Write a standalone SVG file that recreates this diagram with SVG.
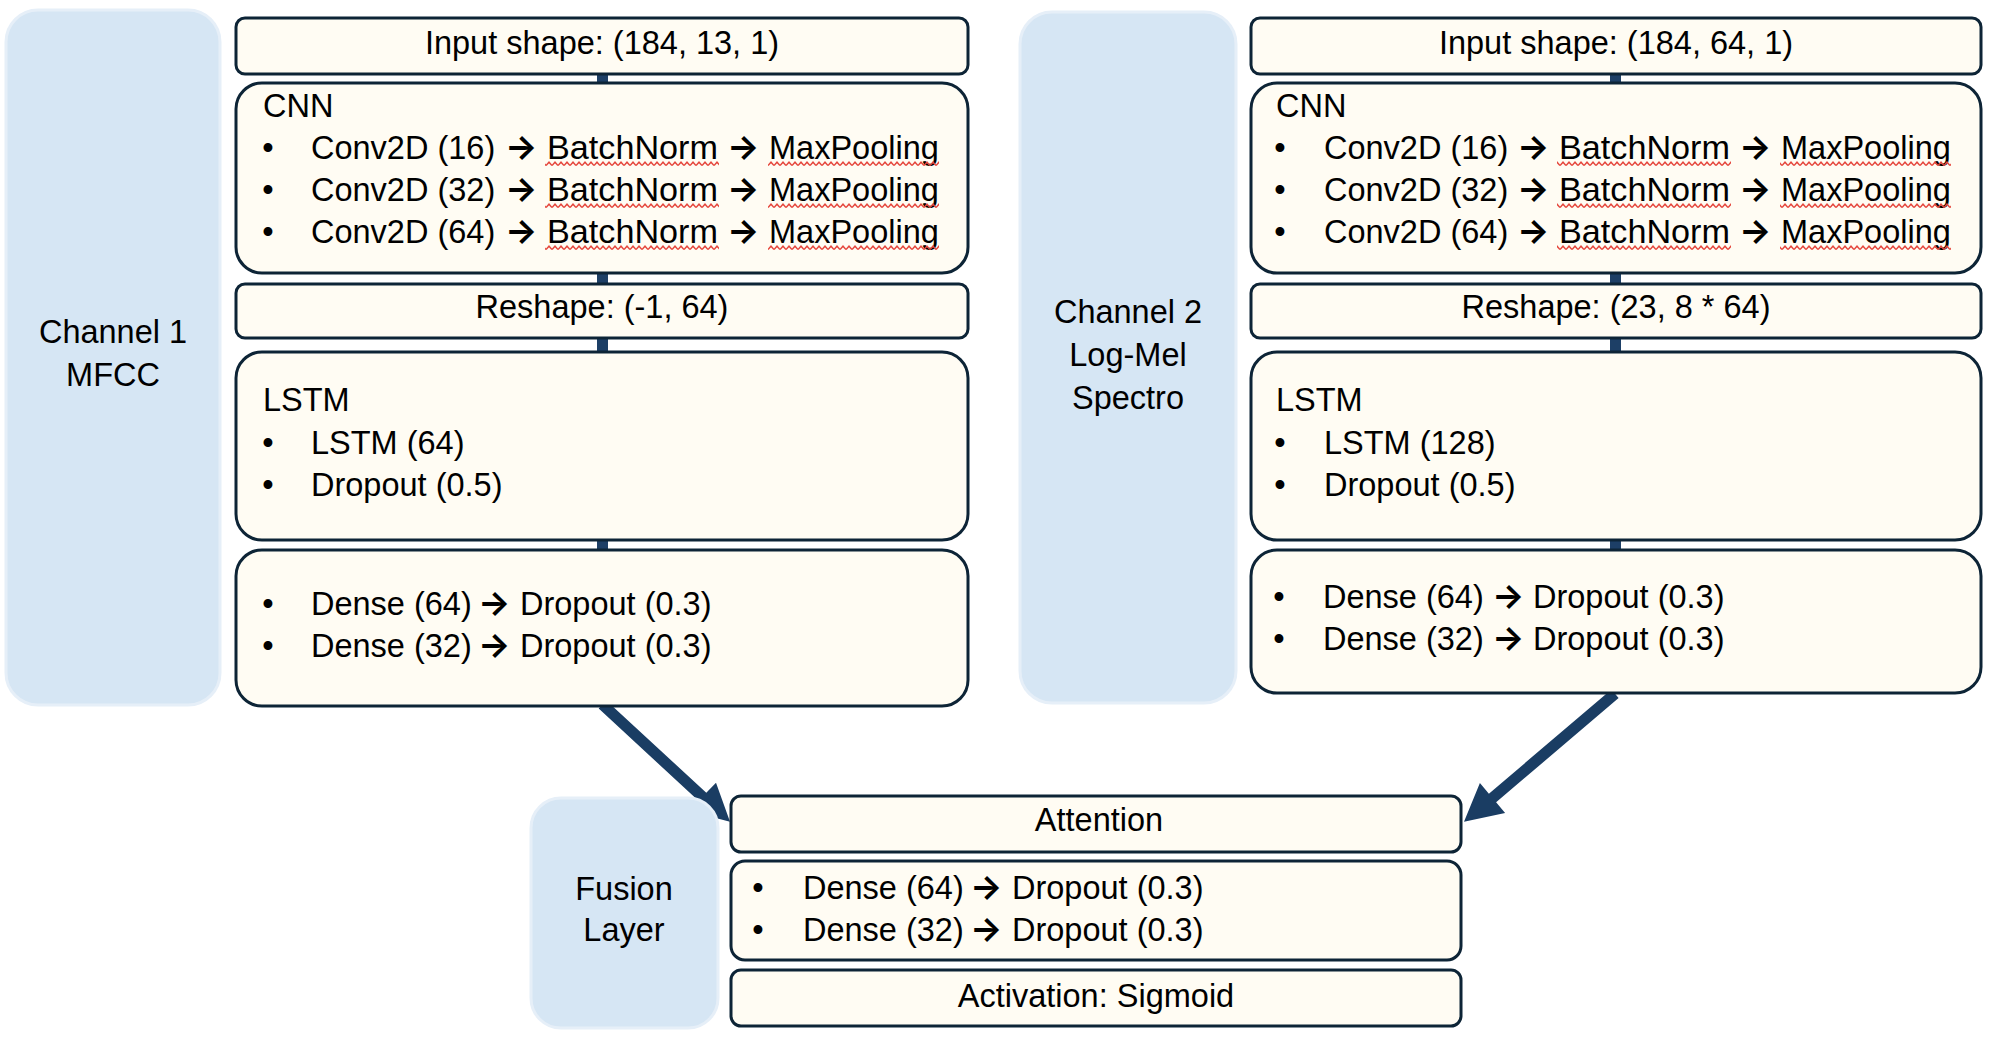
<svg xmlns="http://www.w3.org/2000/svg" width="2004" height="1048" viewBox="0 0 2004 1048">
<style>
.panel{fill:#D6E6F4;stroke:#E6EFF8;stroke-width:3}
.box{fill:#FFFCF3;stroke:#0D2436;stroke-width:3}
.stub{fill:#1D3F66}
.t{font-family:"Liberation Sans",Arial,sans-serif;font-size:32.5px;fill:#000}
.c{text-anchor:middle}
.ar{font-family:Inter,"DejaVu Sans",sans-serif;font-weight:bold;font-size:34px}
.arrow{fill:#1A3D63}
</style>
<defs>
<pattern id="wave" patternUnits="userSpaceOnUse" x="0" y="5" width="6" height="6">
<path d="M0,4.6 L3,1.2 L6,4.6" fill="none" stroke="#E5473D" stroke-width="1.5"/>
</pattern>
</defs>
<rect width="2004" height="1048" fill="#FFFFFF"/>

<g id="connectors">
<rect class="stub" x="597" y="72" width="11" height="13"/>
<rect class="stub" x="597" y="271" width="11" height="15"/>
<rect class="stub" x="597" y="336" width="11" height="18"/>
<rect class="stub" x="597" y="538" width="11" height="14"/>
<rect class="stub" x="1610" y="72" width="11" height="13"/>
<rect class="stub" x="1610" y="271" width="11" height="15"/>
<rect class="stub" x="1610" y="336" width="11" height="18"/>
<rect class="stub" x="1610" y="538" width="11" height="14"/>
<polygon class="arrow" points="606.3,700.4 706.3,792.8 716,782.7 730,821.7 689,811 698.7,801 598.7,708.6"/>
<polygon class="arrow" points="1611.4,689.5 1488.9,793.7 1479.9,783.1 1464,821.7 1505.1,812.9 1496.1,802.3 1618.6,698.1"/>
</g>

<g id="channel1">
<rect class="panel" x="6" y="10" width="214" height="695" rx="32"/>
<text class="t c" x="113" y="343">Channel 1</text>
<text class="t c" x="113" y="386">MFCC</text>
</g>

<g id="input1">
<rect class="box" x="236" y="18" width="732" height="56" rx="9"/>
<text class="t c" x="602" y="54">Input shape: (184, 13, 1)</text>
</g>

<g id="cnn1">
<rect class="box" x="236" y="83" width="732" height="190" rx="26"/>
<text class="t" x="263" y="117">CNN</text>
<text class="t c" x="268" y="159">•</text>
<text class="t c" x="268" y="201">•</text>
<text class="t c" x="268" y="243">•</text>
<text class="t" y="159"><tspan x="311">Conv2D (16)</tspan><tspan class="ar" x="505">→</tspan><tspan x="547" textLength="171" lengthAdjust="spacingAndGlyphs">BatchNorm</tspan><tspan class="ar" x="727">→</tspan><tspan x="769">MaxPooling</tspan></text>
<text class="t" y="201"><tspan x="311">Conv2D (32)</tspan><tspan class="ar" x="505">→</tspan><tspan x="547" textLength="171" lengthAdjust="spacingAndGlyphs">BatchNorm</tspan><tspan class="ar" x="727">→</tspan><tspan x="769">MaxPooling</tspan></text>
<text class="t" y="243"><tspan x="311">Conv2D (64)</tspan><tspan class="ar" x="505">→</tspan><tspan x="547" textLength="171" lengthAdjust="spacingAndGlyphs">BatchNorm</tspan><tspan class="ar" x="727">→</tspan><tspan x="769">MaxPooling</tspan></text>
<rect x="545" y="161" width="174" height="6" fill="url(#wave)"/>
<rect x="768" y="161" width="171" height="6" fill="url(#wave)"/>
<rect x="545" y="203" width="174" height="6" fill="url(#wave)"/>
<rect x="768" y="203" width="171" height="6" fill="url(#wave)"/>
<rect x="545" y="245" width="174" height="6" fill="url(#wave)"/>
<rect x="768" y="245" width="171" height="6" fill="url(#wave)"/>
</g>

<g id="reshape1">
<rect class="box" x="236" y="284" width="732" height="54" rx="9"/>
<text class="t c" x="602" y="318">Reshape: (-1, 64)</text>
</g>

<g id="lstm1">
<rect class="box" x="236" y="352" width="732" height="188" rx="26"/>
<text class="t" x="263" y="411">LSTM</text>
<text class="t c" x="268" y="454">•</text>
<text class="t c" x="268" y="496">•</text>
<text class="t" x="311" y="454">LSTM (64)</text>
<text class="t" x="311" y="496">Dropout (0.5)</text>
</g>

<g id="dense1">
<rect class="box" x="236" y="550" width="732" height="156" rx="26"/>
<text class="t c" x="268" y="615">•</text>
<text class="t c" x="268" y="657">•</text>
<text class="t" y="615"><tspan x="311">Dense (64)</tspan><tspan class="ar" x="478">→</tspan><tspan x="520">Dropout (0.3)</tspan></text>
<text class="t" y="657"><tspan x="311">Dense (32)</tspan><tspan class="ar" x="478">→</tspan><tspan x="520">Dropout (0.3)</tspan></text>
</g>

<g id="channel2">
<rect class="panel" x="1020" y="12" width="216" height="691" rx="32"/>
<text class="t c" x="1128" y="323">Channel 2</text>
<text class="t c" x="1128" y="366">Log-Mel</text>
<text class="t c" x="1128" y="409">Spectro</text>
</g>

<g id="input2">
<rect class="box" x="1251" y="18" width="730" height="56" rx="9"/>
<text class="t c" x="1616" y="54">Input shape: (184, 64, 1)</text>
</g>

<g id="cnn2">
<rect class="box" x="1251" y="83" width="730" height="190" rx="26"/>
<text class="t" x="1276" y="117">CNN</text>
<text class="t c" x="1280" y="159">•</text>
<text class="t c" x="1280" y="201">•</text>
<text class="t c" x="1280" y="243">•</text>
<text class="t" y="159"><tspan x="1324">Conv2D (16)</tspan><tspan class="ar" x="1517">→</tspan><tspan x="1559" textLength="171" lengthAdjust="spacingAndGlyphs">BatchNorm</tspan><tspan class="ar" x="1739">→</tspan><tspan x="1781">MaxPooling</tspan></text>
<text class="t" y="201"><tspan x="1324">Conv2D (32)</tspan><tspan class="ar" x="1517">→</tspan><tspan x="1559" textLength="171" lengthAdjust="spacingAndGlyphs">BatchNorm</tspan><tspan class="ar" x="1739">→</tspan><tspan x="1781">MaxPooling</tspan></text>
<text class="t" y="243"><tspan x="1324">Conv2D (64)</tspan><tspan class="ar" x="1517">→</tspan><tspan x="1559" textLength="171" lengthAdjust="spacingAndGlyphs">BatchNorm</tspan><tspan class="ar" x="1739">→</tspan><tspan x="1781">MaxPooling</tspan></text>
<rect x="1557" y="161" width="174" height="6" fill="url(#wave)"/>
<rect x="1780" y="161" width="171" height="6" fill="url(#wave)"/>
<rect x="1557" y="203" width="174" height="6" fill="url(#wave)"/>
<rect x="1780" y="203" width="171" height="6" fill="url(#wave)"/>
<rect x="1557" y="245" width="174" height="6" fill="url(#wave)"/>
<rect x="1780" y="245" width="171" height="6" fill="url(#wave)"/>
</g>

<g id="reshape2">
<rect class="box" x="1251" y="284" width="730" height="54" rx="9"/>
<text class="t c" x="1616" y="318">Reshape: (23, 8 * 64)</text>
</g>

<g id="lstm2">
<rect class="box" x="1251" y="352" width="730" height="188" rx="26"/>
<text class="t" x="1276" y="411">LSTM</text>
<text class="t c" x="1280" y="454">•</text>
<text class="t c" x="1280" y="496">•</text>
<text class="t" x="1324" y="454">LSTM (128)</text>
<text class="t" x="1324" y="496">Dropout (0.5)</text>
</g>

<g id="dense2">
<rect class="box" x="1251" y="550" width="730" height="143" rx="26"/>
<text class="t c" x="1279" y="608">•</text>
<text class="t c" x="1279" y="650">•</text>
<text class="t" y="608"><tspan x="1323">Dense (64)</tspan><tspan class="ar" x="1492">→</tspan><tspan x="1533">Dropout (0.3)</tspan></text>
<text class="t" y="650"><tspan x="1323">Dense (32)</tspan><tspan class="ar" x="1492">→</tspan><tspan x="1533">Dropout (0.3)</tspan></text>
</g>

<g id="fusion">
<rect class="panel" x="531" y="798" width="187" height="230" rx="30"/>
<text class="t c" x="624" y="900">Fusion</text>
<text class="t c" x="624" y="941">Layer</text>
</g>

<g id="attention">
<rect class="box" x="731" y="796" width="730" height="56" rx="10"/>
<text class="t c" x="1099" y="831">Attention</text>
</g>

<g id="dense3">
<rect class="box" x="731" y="861" width="730" height="99" rx="14"/>
<text class="t c" x="758" y="899">•</text>
<text class="t c" x="758" y="941">•</text>
<text class="t" y="899"><tspan x="803">Dense (64)</tspan><tspan class="ar" x="970">→</tspan><tspan x="1012">Dropout (0.3)</tspan></text>
<text class="t" y="941"><tspan x="803">Dense (32)</tspan><tspan class="ar" x="970">→</tspan><tspan x="1012">Dropout (0.3)</tspan></text>
</g>

<g id="activation">
<rect class="box" x="731" y="970" width="730" height="56" rx="10"/>
<text class="t c" x="1096" y="1007">Activation: Sigmoid</text>
</g>
</svg>
